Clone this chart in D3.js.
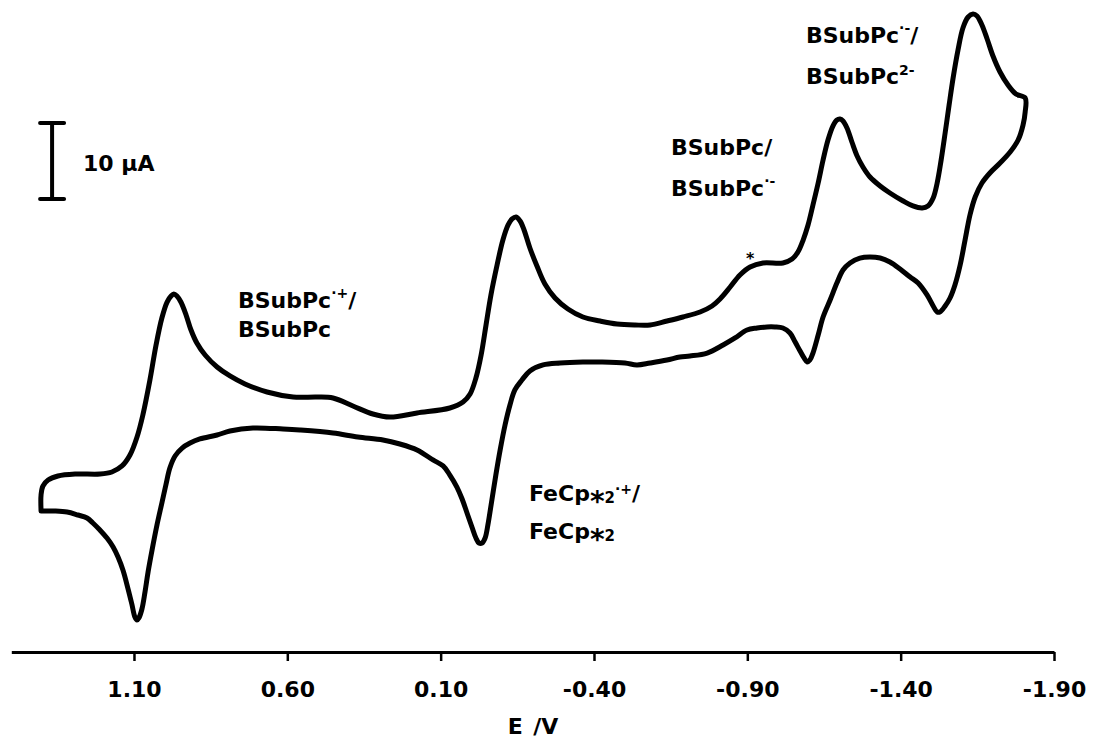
<!DOCTYPE html>
<html>
<head>
<meta charset="utf-8">
<script src="https://cdn.jsdelivr.net/npm/d3@7"></script>
<style>
  html, body { margin: 0; padding: 0; background: #fff; }
  svg { display: block; }
  text { font-family: "DejaVu Sans", Verdana, sans-serif; font-weight: bold; fill: #000; }
</style>
</head>
<body>
<div id="cv"></div>
<script>
"use strict";

// anodic / forward branch, left to right (E in V, I in µA)
const forwardE = [1.403, 1.403, 1.397, 1.380, 1.348, 1.292, 1.211, 1.172, 1.139, 1.113,
  1.090, 1.071, 1.048, 1.028, 1.009, 0.992, 0.979, 0.970, 0.960, 0.947,
  0.930, 0.914, 0.895, 0.868, 0.829, 0.787, 0.738, 0.666, 0.581, 0.503,
  0.451, 0.386, 0.321, 0.265, 0.177, 0.070, 0.027, 0.004, -0.015, -0.032,
  -0.048, -0.064, -0.084, -0.103, -0.120, -0.133, -0.146, -0.159, -0.172, -0.191,
  -0.214, -0.240, -0.273, -0.315, -0.364, -0.420, -0.475, -0.534, -0.583, -0.638,
  -0.690, -0.746, -0.785, -0.811, -0.844, -0.876, -0.909, -0.951, -1.016, -1.046,
  -1.065, -1.082, -1.098, -1.114, -1.131, -1.147, -1.163, -1.179, -1.192, -1.202,
  -1.212, -1.225, -1.241, -1.258, -1.277, -1.300, -1.333, -1.365, -1.408, -1.440,
  -1.470, -1.489, -1.506, -1.519, -1.532, -1.545, -1.558, -1.571, -1.587, -1.603,
  -1.620, -1.636, -1.649, -1.665, -1.682, -1.701, -1.724, -1.750, -1.776, -1.806];
const forwardI = [-14.61, -12.50, -11.32, -10.53, -10.00, -9.74, -9.74, -9.47, -8.68, -7.24,
  -4.87, -1.97, 2.63, 7.24, 10.79, 12.89, 13.68, 13.95, 13.68, 12.89,
  11.18, 9.21, 7.50, 5.92, 4.34, 3.16, 2.11, 1.05, 0.39, 0.39,
  0.26, -0.79, -1.84, -2.24, -1.71, -1.05, -0.26, 0.79, 2.89, 5.92,
  9.87, 13.82, 17.76, 21.05, 23.03, 23.82, 24.08, 23.55, 22.37, 20.00,
  17.63, 15.26, 13.42, 11.97, 10.92, 10.39, 10.00, 9.87, 9.87, 10.39,
  10.92, 11.58, 12.37, 13.29, 14.87, 16.45, 17.50, 18.03, 18.03, 18.55,
  19.47, 21.05, 23.03, 25.66, 28.55, 31.58, 34.21, 36.05, 36.84, 36.97,
  36.71, 35.79, 33.95, 32.11, 30.66, 29.34, 28.16, 27.24, 26.18, 25.53,
  25.26, 25.53, 26.58, 28.55, 31.58, 35.13, 38.82, 42.37, 46.05, 48.95,
  50.39, 50.79, 50.53, 49.34, 47.50, 45.26, 43.16, 41.45, 40.26, 39.74];

// return branch, right to left
const reverseE = [-1.806, -1.799, -1.783, -1.757, -1.724, -1.691, -1.665, -1.643, -1.626, -1.610,
  -1.594, -1.577, -1.561, -1.545, -1.528, -1.519, -1.506, -1.486, -1.457, -1.431,
  -1.398, -1.365, -1.333, -1.300, -1.267, -1.235, -1.212, -1.192, -1.170, -1.147,
  -1.131, -1.114, -1.104, -1.095, -1.085, -1.072, -1.056, -1.039, -1.016, -0.990,
  -0.964, -0.932, -0.899, -0.860, -0.821, -0.769, -0.713, -0.680, -0.638, -0.583,
  -0.540, -0.501, -0.420, -0.364, -0.289, -0.234, -0.191, -0.165, -0.142, -0.126,
  -0.110, -0.094, -0.080, -0.067, -0.054, -0.045, -0.035, -0.025, -0.015, -0.002,
  0.014, 0.030, 0.047, 0.070, 0.092, 0.125, 0.177, 0.233, 0.288, 0.370,
  0.451, 0.559, 0.614, 0.712, 0.787, 0.829, 0.885, 0.917, 0.943, 0.966,
  0.983, 0.996, 1.009, 1.025, 1.041, 1.054, 1.064, 1.074, 1.084, 1.090,
  1.097, 1.107, 1.120, 1.136, 1.152, 1.168, 1.188, 1.211, 1.234, 1.253,
  1.283, 1.318, 1.358, 1.400];
const reverseI = [37.89, 36.18, 34.21, 32.63, 31.18, 29.87, 28.55, 26.71, 24.34, 21.05,
  17.76, 15.13, 13.42, 12.37, 11.58, 11.58, 12.37, 13.82, 15.39, 16.18,
  17.24, 18.16, 18.68, 18.82, 18.68, 18.03, 17.11, 15.39, 13.16, 10.92,
  8.55, 6.18, 5.26, 5.00, 5.53, 6.45, 7.63, 8.82, 9.47, 9.61,
  9.61, 9.47, 9.21, 8.16, 7.24, 6.18, 5.79, 5.66, 5.26, 4.87,
  4.61, 4.87, 5.00, 5.00, 4.87, 4.61, 3.82, 2.63, 1.32, -0.66,
  -3.29, -6.58, -9.87, -13.16, -16.45, -18.16, -18.82, -18.82, -18.16, -16.71,
  -14.87, -13.03, -11.45, -9.87, -8.68, -7.89, -6.58, -5.79, -5.26, -4.87,
  -4.34, -3.95, -3.82, -3.68, -4.08, -4.61, -5.13, -5.66, -6.32, -7.37,
  -8.95, -11.18, -13.55, -16.45, -19.74, -22.63, -25.26, -27.50, -28.68, -28.95,
  -28.55, -26.84, -24.74, -22.37, -20.66, -19.34, -18.16, -17.11, -16.18, -15.53,
  -15.13, -14.74, -14.61, -14.61];

const tickValues = [1.10, 0.60, 0.10, -0.40, -0.90, -1.40, -1.90];
const axisTitle = "E /V";

// 10 µA scale bar
const scaleBarE = 1.367;
const scaleBarI = [26.45, 36.45];
const scaleBarLabel = "10 μA";

const width = 1094, height = 740;

const svg = d3.select("#cv")
  .append("svg")
  .attr("width", width)
  .attr("height", height);

const x = d3.scaleLinear()
  .domain([1.50, -1.90])
  .range([11.3, 1054]);

const y = d3.scaleLinear()
  .domain([-30, 50])
  .range([628, 20]);

const axisY = 652;

// the voltammogram
const points = forwardE.map((e, i) => [e, forwardI[i]])
  .concat(reverseE.map((e, i) => [e, reverseI[i]]));

svg.append("path")
  .datum(points)
  .attr("fill", "none")
  .attr("stroke", "#000")
  .attr("stroke-width", 5)
  .attr("stroke-linejoin", "round")
  .attr("stroke-linecap", "round")
  .attr("d", d3.line()
    .curve(d3.curveCatmullRom.alpha(0.5))
    .x(d => x(d[0]))
    .y(d => y(d[1]))
  );

// x axis
const xAxis = svg.append("g")
  .attr("transform", "translate(0," + axisY + ")")
  .call(d3.axisBottom(x)
    .tickValues(tickValues)
    .tickSize(9)
    .tickSizeOuter(0)
    .tickFormat(d => d.toFixed(2))
  );

xAxis.select(".domain")
  .attr("stroke", "#000")
  .attr("stroke-width", 3);
xAxis.selectAll(".tick line")
  .attr("stroke", "#000")
  .attr("stroke-width", 2.5);
xAxis.selectAll(".tick text")
  .attr("y", 45)
  .attr("dy", 0)
  .style("font-family", "'DejaVu Sans', Verdana, sans-serif")
  .style("font-weight", "bold")
  .style("font-size", "22px");

svg.append("text")
  .attr("x", 533)
  .attr("y", 734)
  .attr("text-anchor", "middle")
  .style("font-size", "22px")
  .style("word-spacing", "3px")
  .text(axisTitle);

// scale bar
const sb = svg.append("g").attr("stroke", "#000").attr("stroke-width", 4).attr("stroke-linecap", "round");
sb.append("line")
  .attr("x1", x(scaleBarE)).attr("x2", x(scaleBarE))
  .attr("y1", y(scaleBarI[0])).attr("y2", y(scaleBarI[1]));
scaleBarI.forEach(v => {
  sb.append("line")
    .attr("x1", x(scaleBarE) - 12).attr("x2", x(scaleBarE) + 12)
    .attr("y1", y(v)).attr("y2", y(v));
});
svg.append("text")
  .attr("x", x(1.266))
  .attr("y", y(30.13))
  .style("font-size", "22px")
  .text(scaleBarLabel);

// peak labels: each line is a list of [text, fontSize, dy]
const labels = [
  { E: 0.761, I: 12.11, parts: [["BSubPc", 22, 0], ["·+", 14, -10], ["/", 22, 10]] },
  { E: 0.761, I: 8.29, parts: [["BSubPc", 22, 0]] },
  { E: -0.188, I: -13.29, parts: [["FeCp", 22, 0], ["*", 28, 10], ["2", 15, -8], ["·+", 14, -9], ["/", 22, 7]] },
  { E: -0.188, I: -18.29, parts: [["FeCp", 22, 0], ["*", 28, 10], ["2", 15, -8]] },
  { E: -0.651, I: 32.24, parts: [["BSubPc/", 22, 0]] },
  { E: -0.651, I: 26.84, parts: [["BSubPc", 22, 0], ["·-", 14, -10]] },
  { E: -1.091, I: 46.97, parts: [["BSubPc", 22, 0], ["·-", 14, -10], ["/", 22, 10]] },
  { E: -1.091, I: 41.58, parts: [["BSubPc", 22, 0], ["2-", 14, -9]] },
  { E: -0.896, I: 17.9, parts: [["*", 16, 0]] }
];

labels.forEach(l => {
  const t = svg.append("text")
    .attr("x", x(l.E))
    .attr("y", y(l.I));
  l.parts.forEach(p => {
    t.append("tspan")
      .attr("dy", p[2])
      .style("font-size", p[1] + "px")
      .text(p[0]);
  });
});
</script>
</body>
</html>
